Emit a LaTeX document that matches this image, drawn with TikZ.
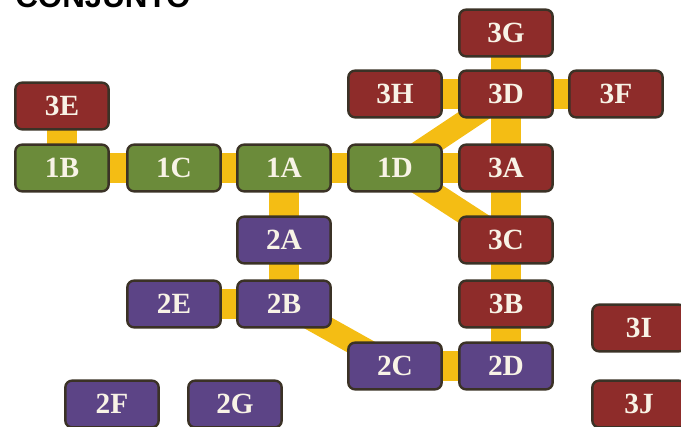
\documentclass[tikz,border=0pt]{standalone}
\usepackage{fontspec}
\setmainfont{Liberation Serif}
\newfontfamily\titlefont{Liberation Sans}
\definecolor{boxred}{HTML}{8E2C2A}
\definecolor{boxgreen}{HTML}{6B8B3A}
\definecolor{boxpurple}{HTML}{5C4486}
\definecolor{linkyellow}{HTML}{F4BD14}
\definecolor{boxedge}{HTML}{3B3226}
\definecolor{textcream}{HTML}{F8F3E6}
\pgfdeclarelayer{bg}
\pgfsetlayers{bg,main}
\begin{document}
\begin{tikzpicture}[x=0.75pt,y=-0.75pt,
  unit/.style={draw=boxedge,line width=1.8pt,rounded corners=5pt,
    minimum width=70pt,minimum height=35pt,inner sep=0pt,
    font=\fontsize{22}{26}\selectfont\bfseries,text=textcream},
  redunit/.style={unit,fill=boxred},
  greenunit/.style={unit,fill=boxgreen},
  purpleunit/.style={unit,fill=boxpurple},
  link/.style={draw=linkyellow,line width=22.5pt},
  diaglink/.style={draw=linkyellow,line width=17pt}]
\useasboundingbox (0,0) rectangle (681,427);
\node[anchor=base west,inner sep=0pt,font=\titlefont\fontsize{23.5}{28}\selectfont\bfseries] (title) at (15,8) {CONJUNTO};
% nodes
\node[redunit] (3E) at (62,106) {3E};
\node[greenunit] (1B) at (62,168) {1B};
\node[greenunit] (1C) at (174,168) {1C};
\node[greenunit] (1A) at (284,168) {1A};
\node[greenunit] (1D) at (395,168) {1D};
\node[redunit] (3G) at (506,33) {3G};
\node[redunit] (3H) at (395,94) {3H};
\node[redunit] (3D) at (506,94) {3D};
\node[redunit] (3F) at (616,94) {3F};
\node[redunit] (3A) at (506,168) {3A};
\node[redunit] (3C) at (506,240) {3C};
\node[redunit] (3B) at (506,304) {3B};
\node[purpleunit] (2D) at (506,366) {2D};
\node[purpleunit] (2C) at (395,366) {2C};
\node[purpleunit] (2A) at (284,240) {2A};
\node[purpleunit] (2B) at (284,304) {2B};
\node[purpleunit] (2E) at (174,304) {2E};
\node[purpleunit] (2F) at (112,404) {2F};
\node[purpleunit] (2G) at (235,404) {2G};
\node[redunit] (3I) at (639,328) {3I};
\node[redunit] (3J) at (639,404) {3J};
% connectors behind
\begin{pgfonlayer}{bg}
\draw[link] (3E.center) -- (1B.center);
\draw[link] (1B.center) -- (1C.center);
\draw[link] (1C.center) -- (1A.center);
\draw[link] (1A.center) -- (1D.center);
\draw[link] (1D.center) -- (3A.center);
\draw[diaglink] (1D.center) -- (3D.center);
\draw[diaglink] (1D.center) -- (3C.center);
\draw[link] (3G.center) -- (3D.center);
\draw[link] (3H.center) -- (3D.center);
\draw[link] (3D.center) -- (3F.center);
\draw[link] (3D.center) -- (3A.center);
\draw[link] (3A.center) -- (3C.center);
\draw[link] (3C.center) -- (3B.center);
\draw[link] (3B.center) -- (2D.center);
\draw[link] (2C.center) -- (2D.center);
\draw[diaglink] (2B.center) -- (2C.center);
\draw[link] (1A.center) -- (2A.center);
\draw[link] (2A.center) -- (2B.center);
\draw[link] (2E.center) -- (2B.center);
\end{pgfonlayer}
\end{tikzpicture}
\end{document}
